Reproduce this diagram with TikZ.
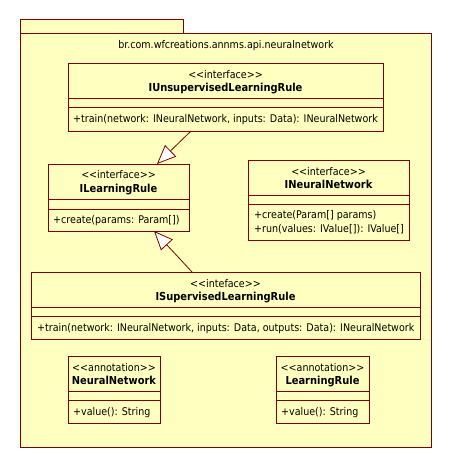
\documentclass[tikz,border=0pt]{standalone}
\usepackage{fontspec}
\setmainfont{DejaVu Sans Condensed}
\usetikzlibrary{arrows.meta,calc}
\definecolor{umlline}{RGB}{128,0,0}
\definecolor{umlfill}{RGB}{255,255,192}
\newcommand\umlfont{\fontsize{10.6}{12}\selectfont}
\tikzset{
  cls/.style={draw=umlline,fill=umlfill,line width=1pt,anchor=north west,inner sep=0pt,outer sep=0pt},
  div/.style={draw=umlline,line width=1pt},
  txt/.style={anchor=base,inner sep=0pt,font=\umlfont},
  title/.style={txt,font=\fontsize{11}{12}\selectfont\bfseries},
  meth/.style={txt,anchor=base west},
  gen/.style={draw=umlline,line width=0.8pt,-{Triangle[open,fill=white,length=19pt,width=16pt]}}
}

\begin{document}
\begin{tikzpicture}[x=1pt,y=-1pt]
\useasboundingbox (0,0) rectangle (452,468);
% package
\node[cls,minimum width=163pt,minimum height=14pt] (pkgtab) at (20,20) {};
\node[cls,minimum width=411pt,minimum height=413pt] (pkg) at (20,34) {};
\node[txt] (pkgname) at (226,49) {br.com.wfcreations.annms.api.neuralnetwork};

% IUnsupervisedLearningRule
\node[cls,minimum width=315pt,minimum height=67pt] (unsup) at (68,64) {};
\draw[div] (68,99) -- (383,99) (68,108) -- (383,108);
\node[txt] (unsupS) at (225.5,79) {<{}<interface>{}>};
\node[title] (unsupN) at (225.5,92) {IUnsupervisedLearningRule};
\node[meth] (unsupM) at (73,122) {+train(network: INeuralNetwork, inputs: Data): INeuralNetwork};

% ILearningRule
\node[cls,minimum width=141pt,minimum height=67pt] (learn) at (48,164) {};
\draw[div] (48,199) -- (189,199) (48,209) -- (189,209);
\node[txt] (learnS) at (118.5,178) {<{}<interface>{}>};
\node[title] (learnN) at (118.5,192) {ILearningRule};
\node[meth] (learnM) at (53,223) {+create(params: Param[])};

% INeuralNetwork
\node[cls,minimum width=161pt,minimum height=80pt] (net) at (248,160) {};
\draw[div] (248,195) -- (409,195) (248,204) -- (409,204);
\node[txt] (netS) at (328.5,175) {<{}<interface>{}>};
\node[title] (netN) at (328.5,188) {INeuralNetwork};
\node[meth] (netM1) at (254,218) {+create(Param[] params)};
\node[meth] (netM2) at (254,232) {+run(values: IValue[]): IValue[]};

% ISupervisedLearningRule
\node[cls,minimum width=389pt,minimum height=67pt] (sup) at (31,272) {};
\draw[div] (31,307) -- (420,307) (31,316) -- (420,316);
\node[txt] (supS) at (225.5,287) {<{}<inteface>{}>};
\node[title] (supN) at (225.5,300) {ISupervisedLearningRule};
\node[meth] (supM) at (37,331) {+train(network: INeuralNetwork, inputs: Data, outputs: Data): INeuralNetwork};

% annotations
\node[cls,minimum width=92pt,minimum height=67pt] (annoNet) at (68,356) {};
\draw[div] (68,391) -- (160,391) (68,400) -- (160,400);
\node[txt] (annoNetS) at (114,371) {<{}<annotation>{}>};
\node[title] (annoNetN) at (114,384) {NeuralNetwork};
\node[meth] (annoNetM) at (73,415) {+value(): String};

\node[cls,minimum width=93pt,minimum height=67pt] (annoRule) at (276,356) {};
\draw[div] (276,391) -- (369,391) (276,400) -- (369,400);
\node[txt] (annoRuleS) at (322.5,371) {<{}<annotation>{}>};
\node[title] (annoRuleN) at (322.5,384) {LearningRule};
\node[meth] (annoRuleM) at (281,415) {+value(): String};

% generalizations
\draw[gen] ($(unsup.south west)+(123,0)$) -- ($(learn.north west)+(109,0)$);
\draw[gen] ($(sup.north west)+(161,0)$) -- ($(learn.south west)+(106,0)$);
\end{tikzpicture}
\end{document}
